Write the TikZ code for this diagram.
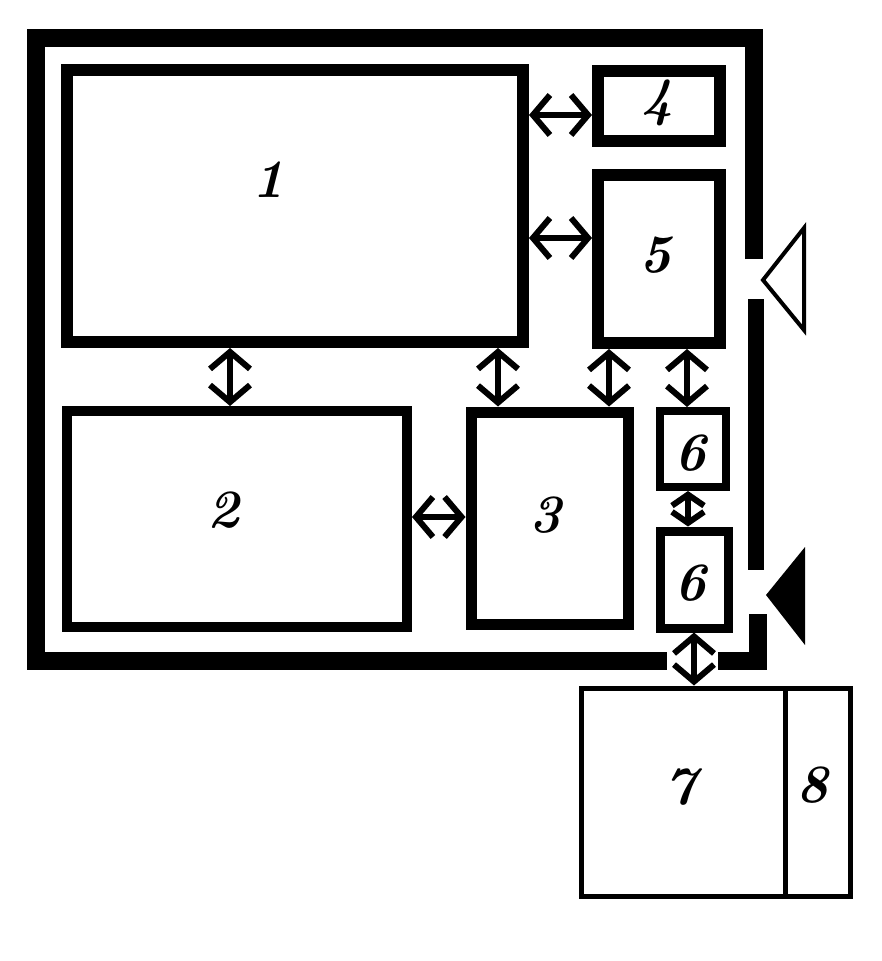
\documentclass[tikz,border=0pt]{standalone}
\usetikzlibrary{arrows.meta}
\begin{document}
\begin{tikzpicture}[x=1pt,y=-1pt,
  box/.style={draw=black,fill=white,rectangle,inner sep=0pt,line width=#1},
  box/.default=12pt,
  lbl/.style={font=\fontsize{54}{54}\selectfont\bfseries\itshape,inner sep=0pt},
  dbl/.style={line width=6pt,{Straight Barb[length=17pt,width=40pt]}-{Straight Barb[length=17pt,width=40pt]}},
  wall/.style={line width=18pt,line join=miter}
]
\useasboundingbox (0,0) rectangle (881,961);
% outer frame
\draw[wall] (754,259) -- (754,38) -- (36,38) -- (36,661) -- (667,661);
\draw[wall,line width=16pt] (756,299) -- (756,570);
\draw[wall] (718,661) -- (758,661) -- (758,614);
% triangles
\draw[line width=4pt,line join=miter] (763,280) -- (804,228) -- (804,330) -- cycle;
\fill (766,595) -- (805,547) -- (805,645) -- cycle;
% boxes
\node[box=12pt,minimum width=456pt,minimum height=272pt] (b1) at (295,206) {};
\node[box=12pt,minimum width=122pt,minimum height=70pt] (b4) at (659,106) {};
\node[box=12pt,minimum width=122pt,minimum height=168pt] (b5) at (659,259) {};
\node[box=10pt,minimum width=340pt,minimum height=216pt] (b2) at (237,519) {};
\node[box=11pt,minimum width=157pt,minimum height=212pt] (b3) at (549.5,518) {};
\node[box=8pt,minimum width=66pt,minimum height=76pt] (b6a) at (693,449) {};
\node[box=9pt,minimum width=68pt,minimum height=97pt] (b6b) at (694,579.5) {};
\node[box=5pt,minimum width=204pt,minimum height=208pt] (b7) at (683,792) {};
\node[box=5pt,minimum width=65pt,minimum height=208pt] (b8) at (817.5,792) {};
% labels
\node[lbl] (l1) at (268,180) {1};
\node[lbl] (l2) at (223,510) {2};
\node[lbl] (l3) at (545,515) {3};
\node[lbl] (l4) at (657,103) {4};
\node[lbl] (l5) at (655,255) {5};
\node[lbl] (l6a) at (690,453) {6};
\node[lbl] (l6b) at (690,583) {6};
\node[lbl] (l7) at (680,787) {7};
\node[lbl] (l8) at (812,785) {8};
% connectors
\draw[dbl] (b1.east |- 0,115) -- (b4.west |- 0,115);
\draw[dbl] (b1.east |- 0,238) -- (b5.west |- 0,238);
\draw[dbl] (b1.south -| 230,0) -- (b2.north -| 230,0);
\draw[dbl] (b1.south -| 498,0) -- (b3.north -| 498,0);
\draw[dbl] (b2.east |- 0,517) -- (b3.west |- 0,517);
\draw[dbl] (b5.south -| 609,0) -- (b3.north -| 609,0);
\draw[dbl] (b5.south -| 687,0) -- (b6a.north -| 687,0);
\draw[dbl,{Straight Barb[length=11pt,width=32pt]}-{Straight Barb[length=11pt,width=32pt]}] (b6a.south -| 688,0) -- (b6b.north -| 688,0);
\draw[dbl] (b6b.south -| 694,0) -- (b7.north -| 694,0);
\end{tikzpicture}
\end{document}
